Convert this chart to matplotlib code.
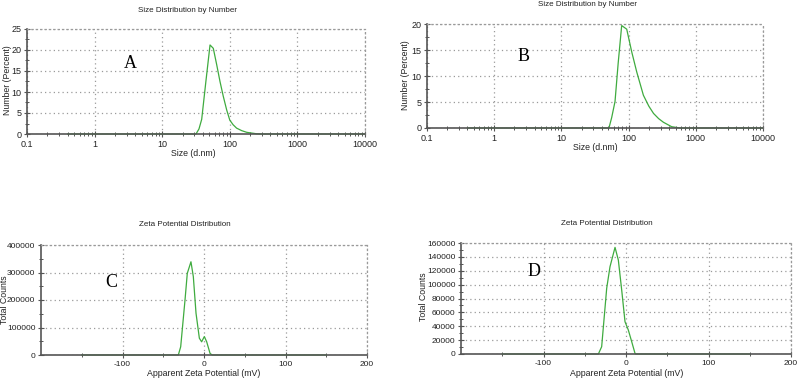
import matplotlib
matplotlib.use("Agg")
import matplotlib.pyplot as plt
from matplotlib.patches import Rectangle
from matplotlib.ticker import FixedLocator, FixedFormatter, MultipleLocator, LogLocator, NullFormatter

# ---------------- data ----------------
sizes_A = [0.4, 31.6, 35, 38.4, 44.2, 51, 57, 64, 71.6, 80, 90, 100, 112, 126, 150, 178, 250, 300, 10000]
percent_A = [0, 0, 1.2, 3.5, 12.4, 21.2, 20.4, 16.5, 12.5, 9, 5.7, 3.3, 2.2, 1.4, 0.8, 0.4, 0.05, 0, 0]

sizes_B = [0.4, 51, 56, 62.8, 70, 78.9, 93.8, 111, 132, 166, 200, 235, 280, 330, 437, 582, 10000]
percent_B = [0, 0, 2.0, 5.1, 12.5, 19.7, 19.0, 14.7, 10.8, 6.3, 4.2, 2.8, 1.8, 1.1, 0.25, 0, 0]

zeta_C = [-150, -31.5, -28.6, -23.3, -20.5, -16, -13.1, -9.8, -5.7, -2.9, 0.4, 3.3, 7.4, 10, 150]
counts_C = [0, 0, 30000, 200000, 297000, 339000, 285000, 152000, 61000, 48000, 67000, 48000, 6000, 0, 0]

zeta_D = [-150, -33.5, -29.5, -23.4, -19.4, -13.3, -9.3, -5.2, -1.2, 2.8, 6.9, 10.9, 12, 150]
counts_D = [0, 0, 10500, 94700, 125800, 153700, 135500, 92000, 46500, 34600, 17800, 1000, 0, 0]

size_ticks = [0.1, 1, 10, 100, 1000, 10000]
size_tick_labels = ["0.1", "1", "10", "100", "1000", "10000"]
zeta_ticks = [-100, 0, 100, 200]
zeta_tick_labels = ["-100", "0", "100", "200"]

titles = ["Size Distribution by Number", "Size Distribution by Number",
          "Zeta Potential Distribution", "Zeta Potential Distribution"]
xlabels = ["Size (d.nm)", "Size (d.nm)",
           "Apparent Zeta Potential (mV)", "Apparent Zeta Potential (mV)"]
ylabels = ["Number (Percent)", "Number (Percent)", "Total Counts", "Total Counts"]
letters = ["A", "B", "C", "D"]

# ---------------- style ----------------
plt.rcParams['font.family'] = ['Liberation Sans', 'DejaVu Sans']
GREEN = '#3fab3f'
GRID = '#9a9a9a'
SPINE = '#555555'
W, H = 800, 380

fig = plt.figure(figsize=(8, 3.8), dpi=100)

def px_axes(l, t, r, b):
    return fig.add_axes([l / W, 1 - b / H, (r - l) / W, (b - t) / H])

axA = px_axes(27, 29, 365, 134)
axB = px_axes(427, 24, 763, 128)
axC = px_axes(41, 245, 367, 355)
axD = px_axes(461, 243, 791, 354)
axes = [axA, axB, axC, axD]

title_pos = [(187, 10), (587, 5), (185, 225), (607, 223)]
xlabel_pos = [(193, 154), (595, 148), (204, 373), (627, 373)]
ylabel_pos = [(7, 80), (406, 75), (5, 300), (424, 297)]
boxes = [(0.112, 0.486, 0.290, 0.476), (0.092, 0.49, 0.283, 0.423),
         (0.012, 0.473, 0.298, 0.50), (0.003, 0.56, 0.306, 0.27)]
letter_pos = [(0.305, 0.676), (0.286, 0.69), (0.215, 0.655), (0.221, 0.739)]
tick_fs = [6.5, 6.5, 6, 6]

def style(ax, i):
    ax.grid(True, which='major', linestyle=(0, (1, 2.5)), color=GRID, linewidth=0.9, zorder=0)
    for s in ['top', 'right']:
        ax.spines[s].set_linestyle((0, (1, 2.5)))
        ax.spines[s].set_color(GRID)
        ax.spines[s].set_linewidth(0.9)
    for s in ['left', 'bottom']:
        ax.spines[s].set_color(SPINE)
        ax.spines[s].set_linewidth(1.2)
    ax.tick_params(which='major', direction='inout', length=4, width=0.8, color=SPINE,
                   labelsize=tick_fs[i], pad=2, top=False, right=False, labelcolor='#222222')
    ax.tick_params(which='minor', direction='inout', length=2.5, width=0.7, color=SPINE,
                   top=False, right=False)
    ax.add_patch(Rectangle((boxes[i][0], boxes[i][1]), boxes[i][2], boxes[i][3],
                           transform=ax.transAxes, facecolor='white', edgecolor='none', zorder=1))
    ax.text(letter_pos[i][0], letter_pos[i][1], letters[i], transform=ax.transAxes,
            family=['Liberation Serif', 'DejaVu Serif'], fontsize=13, ha='center', va='center', zorder=3)
    fig.text(title_pos[i][0] / W, 1 - title_pos[i][1] / H, titles[i], fontsize=5.8,
             ha='center', va='center', color='#222222')
    fig.text(xlabel_pos[i][0] / W, 1 - xlabel_pos[i][1] / H, xlabels[i], fontsize=6.3,
             ha='center', va='center', color='#222222')
    fig.text(ylabel_pos[i][0] / W, 1 - ylabel_pos[i][1] / H, ylabels[i], fontsize=6.3,
             ha='center', va='center', rotation=90, color='#222222')

# Size panels
for i, (ax, xs, ys, ymax, ystep) in enumerate([(axA, sizes_A, percent_A, 25, 5),
                                               (axB, sizes_B, percent_B, 20, 5)]):
    ax.set_xscale('log')
    ax.plot(xs, ys, color=GREEN, linewidth=0.9, zorder=2, clip_on=False)
    ax.set_xlim(0.1, 10000)
    ax.set_ylim(0, ymax)
    ax.xaxis.set_major_locator(FixedLocator(size_ticks))
    ax.xaxis.set_major_formatter(FixedFormatter(size_tick_labels))
    ax.xaxis.set_minor_locator(LogLocator(base=10, subs=range(2, 10)))
    ax.xaxis.set_minor_formatter(NullFormatter())
    ax.yaxis.set_major_locator(MultipleLocator(ystep))
    ax.yaxis.set_minor_locator(MultipleLocator(ystep / 2))
    style(ax, i)

# Zeta panels
for j, (ax, xs, ys, ymax, ystep) in enumerate([(axC, zeta_C, counts_C, 400000, 100000),
                                               (axD, zeta_D, counts_D, 160000, 20000)]):
    i = j + 2
    ax.plot(xs, ys, color=GREEN, linewidth=0.9, zorder=2, clip_on=False)
    ax.set_xlim(-200, 200)
    ax.set_ylim(0, ymax)
    ax.xaxis.set_major_locator(FixedLocator(zeta_ticks))
    ax.xaxis.set_major_formatter(FixedFormatter(zeta_tick_labels))
    ax.xaxis.set_minor_locator(FixedLocator([-150, -50, 50, 150]))
    ax.yaxis.set_major_locator(MultipleLocator(ystep))
    ax.yaxis.set_minor_locator(MultipleLocator(ystep / 2))
    ax.yaxis.set_major_formatter(matplotlib.ticker.FuncFormatter(lambda v, p: f"{int(v)}"))
    style(ax, i)

fig.savefig("out.png", dpi=100)
